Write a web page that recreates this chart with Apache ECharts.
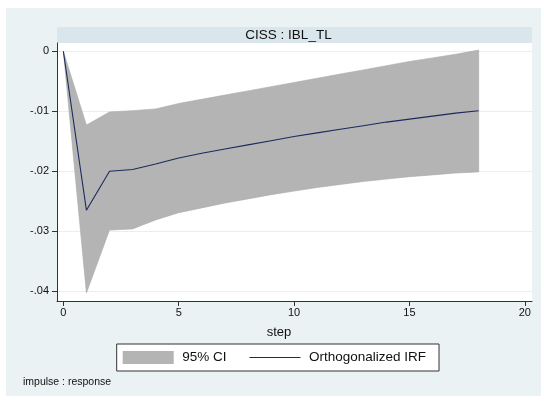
<!DOCTYPE html>
<html><head><meta charset="utf-8">
<script src="https://cdn.jsdelivr.net/npm/echarts@6/dist/echarts.min.js"></script>
<style>html,body{margin:0;padding:0;background:#fff}#c{width:544px;height:401px}</style>
</head><body><div id="c"></div>
<script>
const steps   = [0, 1, 2, 3, 4, 5, 6, 7, 8, 9, 10, 11, 12, 13, 14, 15, 16, 17, 18];
const irf     = [0, -0.0265, -0.0200, -0.0197, -0.0188, -0.0178, -0.0170, -0.0163, -0.0156, -0.0149, -0.0142, -0.0136, -0.0130, -0.0124, -0.0118, -0.0113, -0.0108, -0.0103, -0.0099];
const ciLower = [0, -0.0403, -0.0298, -0.0296, -0.0281, -0.0269, -0.0261, -0.0253, -0.0246, -0.0239, -0.0233, -0.0227, -0.0222, -0.0217, -0.0213, -0.0209, -0.0206, -0.0203, -0.0201];
const ciUpper = [0, -0.0123, -0.0101, -0.0099, -0.0096, -0.0087, -0.0080, -0.0073, -0.0066, -0.0059, -0.0052, -0.0045, -0.0038, -0.0031, -0.0024, -0.0017, -0.0011, -0.0005, 0.0002];
const xTicks = [0, 5, 10, 15, 20];
const yTicks = [-0.04, -0.03, -0.02, -0.01, 0];
const yTickLabels = ['-.04', '-.03', '-.02', '-.01', '0'];
const panelTitle = 'CISS : IBL_TL';
const xName = 'step';
const noteText = 'impulse : response';

const FONT = "'Liberation Sans', Arial, Helvetica, sans-serif";
const chart = echarts.init(document.getElementById('c'), null, {renderer: 'canvas'});

const bandData = steps.map((s, i) => [s, ciLower[i], ciUpper[i]]);
const irfData  = steps.map((s, i) => [s, irf[i]]);

chart.setOption({
  animation: false,
  backgroundColor: '#ffffff',
  textStyle: {fontFamily: FONT},
  graphic: [
    {type: 'rect', z: -10, silent: true, shape: {x: 6, y: 8, width: 535, height: 388}, style: {fill: '#eaf2f3'}},
    {type: 'rect', z: -9, silent: true, shape: {x: 57, y: 27, width: 475, height: 16}, style: {fill: '#d9e6eb'}},
    {type: 'rect', z: -9, silent: true, shape: {x: 57, y: 43, width: 475, height: 258}, style: {fill: '#ffffff'}},
    {type: 'text', z: 10, silent: true, x: 23, y: 382,
     style: {text: noteText, fontSize: 10.5, fontFamily: FONT, fill: '#111', verticalAlign: 'middle', align: 'left'}}
  ],
  title: {
    text: panelTitle, left: 288.5, top: 35, textAlign: 'center', textVerticalAlign: 'middle',
    padding: 0,
    textStyle: {fontSize: 13.5, fontWeight: 'normal', color: '#111', fontFamily: FONT}
  },
  grid: {left: 57, right: 12, top: 43, bottom: 100, containLabel: false},
  xAxis: {
    type: 'value', min: -0.275, max: 20.31,
    axisLine: {show: true, onZero: false, lineStyle: {color: '#333', width: 1}},
    axisTick: {show: true, length: 5, customValues: xTicks, lineStyle: {color: '#333'}},
    axisLabel: {customValues: xTicks, margin: 6, fontSize: 11, color: '#111', fontFamily: FONT},
    splitLine: {show: false},
    name: xName, nameLocation: 'middle', nameGap: 25,
    nameTextStyle: {fontSize: 13, color: '#111', fontFamily: FONT, padding: [0, 31, 0, 0]}
  },
  yAxis: {
    type: 'value', min: -0.04162, max: 0.00138,
    axisLine: {show: true, onZero: false, lineStyle: {color: '#333', width: 1}},
    axisTick: {show: true, length: 5, customValues: yTicks, lineStyle: {color: '#333'}},
    axisLabel: {
      customValues: yTicks, margin: 8, fontSize: 11, color: '#111', fontFamily: FONT,
      formatter: v => { const k = yTicks.findIndex(t => Math.abs(t - v) < 1e-9); return k >= 0 ? yTickLabels[k] : ''; }
    },
    splitLine: {show: true, lineStyle: {color: '#e8eff1', width: 1}}
  },
  legend: {
    left: 116.7, top: 344, orient: 'horizontal',
    backgroundColor: '#ffffff', borderColor: '#333', borderWidth: 1,
    padding: [6.5, 13, 6.5, 6], itemGap: 23, itemWidth: 51, itemHeight: 13,
    textStyle: {fontSize: 13.5, color: '#111', fontFamily: FONT, padding: [0, 0, 0, 3.5]},
    selectedMode: false,
    data: [
      {name: '95% CI', icon: 'rect', itemStyle: {color: '#b4b4b4', borderWidth: 0}},
      {name: 'Orthogonalized IRF', icon: 'path://M0,0 L51,0 L51,1 L0,1 Z', itemStyle: {color: '#1b2a5c'}}
    ]
  },
  series: [
    {
      name: '95% CI', type: 'custom', data: bandData,
      encode: {x: 0, y: [1, 2]}, color: '#b4b4b4', silent: true, z: 2, clip: true,
      renderItem: (params, api) => {
        if (params.dataIndex !== 0) return null;
        const pts = [];
        for (let i = 0; i < steps.length; i++) pts.push(api.coord([steps[i], ciUpper[i]]));
        for (let i = steps.length - 1; i >= 0; i--) pts.push(api.coord([steps[i], ciLower[i]]));
        return {type: 'polygon', shape: {points: pts},
                style: {fill: '#b4b4b4', stroke: '#aaaaaa', lineWidth: 0.6}};
      }
    },
    {
      name: 'Orthogonalized IRF', type: 'line', data: irfData,
      symbol: 'none', color: '#1b2a5c',
      lineStyle: {color: '#1b2a5c', width: 1.1}, silent: true, z: 3
    }
  ]
});
</script>
</body></html>
